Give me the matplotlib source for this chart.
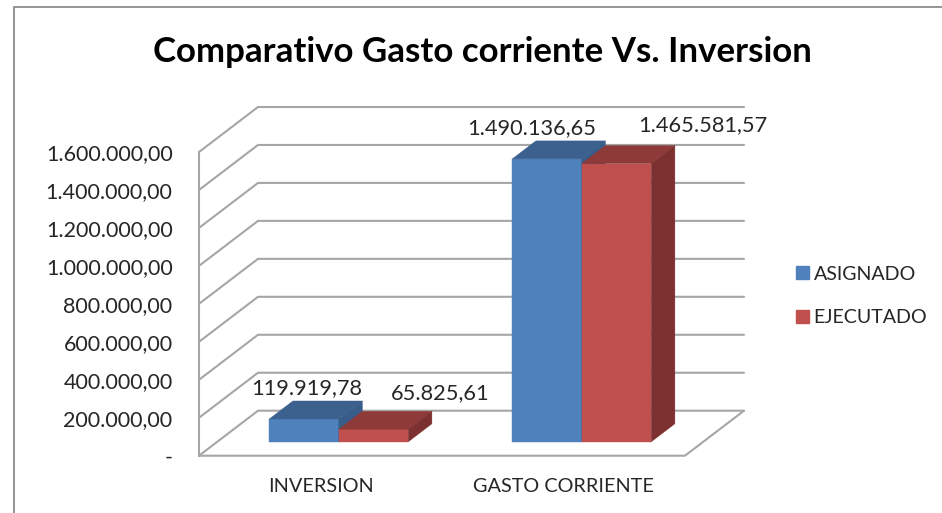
from matplotlib import pyplot as plt
from matplotlib.patches import Patch
from matplotlib.lines import Line2D

categories = ['INVERSION', 'GASTO CORRIENTE']
asignado = [119919.78, 1490136.65]
ejecutado = [65825.61, 1465581.57]
asignado_labels = ['119.919,78', '1.490.136,65']
ejecutado_labels = ['65.825,61', '1.465.581,57']
yticks = [0, 200000, 400000, 600000, 800000, 1000000, 1200000, 1400000, 1600000]
ytick_labels = ['-', '200.000,00', '400.000,00', '600.000,00', '800.000,00',
                '1.000.000,00', '1.200.000,00', '1.400.000,00', '1.600.000,00']

W, H = 942, 513
plt.rcParams['font.family'] = ['Lato', 'DejaVu Sans']
TXT = '#262626'
GRID = '#a6a6a6'

fig = plt.figure(figsize=(W/100, H/100), dpi=100)
# front plane of the 3D box, in pixels
ax = fig.add_axes([199/W, 1 - 455.7/H, (685 - 199)/W, 303.7/H])
ax.set_xlim(-0.5, 1.5)
ax.set_ylim(0, 1600000)
ax.patch.set_visible(False)
for s in ax.spines.values():
    s.set_visible(False)

# depth of the box expressed in data units
DX = 59/243
DY = 45/303.7*1600000
BAR_W = 0.286
D1, D2 = 0.31, 0.71      # where the bars sit inside the depth


def proj(x, v, d):
    return x + d*DX, v + d*DY


def line(pts, **kw):
    xs, ys = zip(*pts)
    ax.plot(xs, ys, color=GRID, lw=1.5, clip_on=False, solid_capstyle='round', **kw)


# walls and floor
for v in yticks:
    line([proj(-0.5, v, 0), proj(-0.5, v, 1), proj(1.5, v, 1)], zorder=1)
line([proj(-0.5, 0, 0), proj(-0.5, 1600000, 0)], zorder=1)
line([proj(-0.5, 0, 0), proj(1.5, 0, 0), proj(1.5, 0, 1)], zorder=1)


def bar3d(x0, x1, v, front, top, side, z):
    quads = [
        ([(x0, 0, D1), (x1, 0, D1), (x1, v, D1), (x0, v, D1)], front),
        ([(x0, v, D1), (x1, v, D1), (x1, v, D2), (x0, v, D2)], top),
        ([(x1, 0, D1), (x1, 0, D2), (x1, v, D2), (x1, v, D1)], side),
    ]
    for q, c in quads:
        pts = [proj(*p) for p in q]
        xs, ys = zip(*pts)
        ax.fill(xs, ys, color=c, lw=0.3, clip_on=False, zorder=z)


for i in range(len(categories)):
    bar3d(i - BAR_W, i, asignado[i], '#4f81bd', '#3c618f', '#385d8a', 3)
    bar3d(i, i + BAR_W, ejecutado[i], '#c0504d', '#8e3a38', '#7d3030', 4)

ax.set_xticks(range(len(categories)))
ax.set_xticklabels(categories, fontsize=14.3, color=TXT)
ax.set_yticks(yticks)
ax.set_yticklabels(ytick_labels, fontsize=15.5, color=TXT)
ax.tick_params(axis='both', length=0)
ax.tick_params(axis='x', pad=16)
ax.tick_params(axis='y', pad=19)

# data labels
lab = dict(ha='center', va='center', fontsize=15.7, color=TXT, clip_on=False, zorder=6)
ax.text(-0.058, 356000, asignado_labels[0], **lab)
ax.text(0.492, 330000, ejecutado_labels[0], **lab)
ax.text(0.868, 1726000, asignado_labels[1], **lab)
ax.text(1.572, 1742000, ejecutado_labels[1], **lab)

fig.text(482/W, 1 - 52/H, 'Comparativo Gasto corriente Vs. Inversion', ha='center', va='center',
         fontsize=25.1, fontweight='bold', color='black')

handles = [Patch(color='#4f81bd', label='ASIGNADO'), Patch(color='#c0504d', label='EJECUTADO')]
fig.legend(handles=handles, loc='center left', bbox_to_anchor=(796/W, 1 - 296/H), frameon=False,
           fontsize=14.1, handlelength=0.65, handleheight=0.65, handletextpad=0.25, labelspacing=1.35,
           borderpad=0, borderaxespad=0, labelcolor=TXT)

# border of the pasted chart
fig.add_artist(Line2D([14/W, 14/W, 1], [0, 1 - 7/H, 1 - 7/H], color='#8c8c8c', lw=1.3))

fig.savefig('out.png', dpi=100)
